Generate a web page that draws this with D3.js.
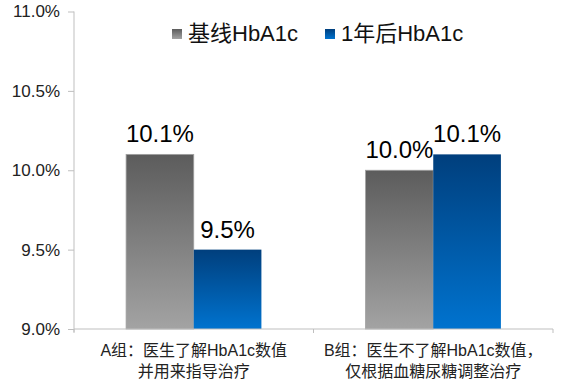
<!DOCTYPE html>
<html>
<head>
<meta charset="utf-8">
<script src="https://cdn.jsdelivr.net/npm/d3@7"></script>
<style>
  body { margin: 0; background: #fff; }
  text { font-family: Arial, "Liberation Sans", "Noto Sans CJK SC", sans-serif; }
</style>
</head>
<body>
<svg id="chart"></svg>
<script>
// data
const categories = ['A组：医生了解HbA1c数值|并用来指导治疗', 'B组：医生不了解HbA1c数值，|仅根据血糖尿糖调整治疗'];
const seriesNames = ['基线HbA1c', '1年后HbA1c'];
const baseline = [10.1, 10.0];
const afterYear = [9.5, 10.1];
const yTicks = [9.0, 9.5, 10.0, 10.5, 11.0];

const size = { w: 564, h: 391 };
const plot = { l: 74, r: 553, t: 11.5, b: 329 };

const svg = d3.select('svg#chart')
    .attr('width', size.w)
    .attr('height', size.h);

// gradients for each series (per bar, top dark -> bottom light)
const defs = svg.append('defs');
const gradStops = [
    ['#5c5c5c', '#a3a3a3'],
    ['#003f7d', '#0073cf']
];
gradStops.forEach((s, i) => {
    const g = defs.append('linearGradient')
        .attr('id', 'grad' + i)
        .attr('x1', 0).attr('y1', 0).attr('x2', 0).attr('y2', 1);
    g.append('stop').attr('offset', '0%').attr('stop-color', s[0]);
    g.append('stop').attr('offset', '100%').attr('stop-color', s[1]);
});

const x0 = d3.scaleBand()
    .domain(categories)
    .range([plot.l, plot.r])
    .padding(0);

const x1 = d3.scaleBand()
    .domain(seriesNames)
    .range([0, x0.bandwidth()])
    .paddingInner(0)
    .paddingOuter(0.77);

const y = d3.scaleLinear()
    .domain([9, 11])
    .range([plot.b, plot.t]);

// y axis
const yAxis = svg.append('g')
    .attr('transform', `translate(${plot.l},0)`)
    .call(d3.axisLeft(y).tickValues(yTicks).tickSize(6).tickPadding(8)
        .tickFormat(d => d.toFixed(1) + '%'));
yAxis.select('.domain').attr('stroke', '#bfbfbf').attr('d', `M0,${plot.t}V${plot.b + 3}`);
yAxis.selectAll('.tick line').attr('stroke', '#bfbfbf');
yAxis.selectAll('.tick text').attr('font-size', 17).attr('fill', '#222');

// bars
const rows = categories.map((c, i) => ({ cat: c, vals: [baseline[i], afterYear[i]] }));

const groups = svg.selectAll('g.grp')
    .data(rows)
    .join('g')
    .classed('grp', true)
    .attr('transform', d => `translate(${x0(d.cat)},0)`);

groups.selectAll('rect')
    .data(d => d.vals.map((v, i) => ({ key: seriesNames[i], v: v, i: i })))
    .join('rect')
    .attr('x', d => x1(d.key))
    .attr('y', d => y(d.v))
    .attr('width', x1.bandwidth())
    .attr('height', d => y(9) - y(d.v))
    .attr('fill', d => `url(#grad${d.i})`)
    .attr('stroke', d => d.i === 0 ? '#a0a0a0' : 'none')
    .attr('stroke-width', 0.8);

groups.selectAll('text.val')
    .data(d => d.vals.map((v, i) => ({ key: seriesNames[i], v: v })))
    .join('text')
    .classed('val', true)
    .attr('x', d => x1(d.key) + x1.bandwidth() / 2)
    .attr('y', d => y(d.v) - 12)
    .attr('text-anchor', 'middle')
    .attr('font-size', 24)
    .attr('fill', '#000')
    .text(d => d.v.toFixed(1) + '%');

// x axis
const xAxis = svg.append('g');
xAxis.append('line')
    .attr('x1', plot.l).attr('x2', plot.r)
    .attr('y1', y(9)).attr('y2', y(9))
    .attr('stroke', '#bfbfbf');
const bounds = categories.map(c => x0(c)).concat([x0(categories[1]) + x0.bandwidth()]);
xAxis.selectAll('line.tk')
    .data(bounds)
    .join('line')
    .classed('tk', true)
    .attr('x1', d => d).attr('x2', d => d)
    .attr('y1', y(9)).attr('y2', y(9) + 4)
    .attr('stroke', '#bfbfbf');

const catLabels = xAxis.selectAll('text.cat')
    .data(categories)
    .join('text')
    .classed('cat', true)
    .attr('x', d => x0(d) + x0.bandwidth() / 2)
    .attr('y', 356)
    .attr('text-anchor', 'middle')
    .attr('font-size', 16)
    .attr('fill', '#222');
catLabels.selectAll('tspan')
    .data(d => d.split('|'))
    .join('tspan')
    .attr('x', function () { return d3.select(this.parentNode).attr('x'); })
    .attr('dy', (d, i) => i === 0 ? 0 : 21)
    .text(d => d);

// legend
const legendX = [172, 325];
const legend = svg.selectAll('g.leg')
    .data(seriesNames)
    .join('g')
    .classed('leg', true)
    .attr('transform', (d, i) => `translate(${legendX[i]},29)`);
legend.append('rect')
    .attr('width', 10).attr('height', 10)
    .attr('fill', (d, i) => `url(#grad${i})`);
legend.append('text')
    .attr('x', 16)
    .attr('y', 11.5)
    .attr('font-size', 22)
    .attr('fill', '#111')
    .text(d => d);
</script>
</body>
</html>
